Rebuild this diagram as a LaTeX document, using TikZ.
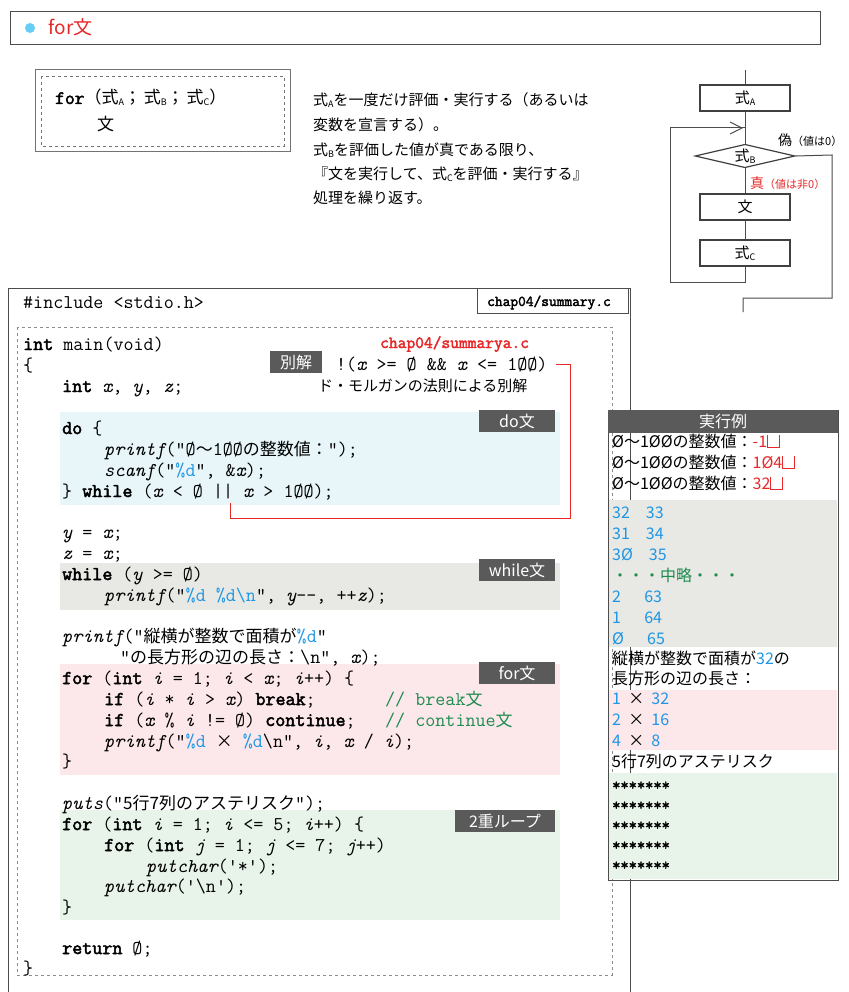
\documentclass[tikz,border=0pt]{standalone}
\usetikzlibrary{shapes.geometric}
\usepackage{fontspec}
\setmainfont{Noto Sans CJK JP}
\setmonofont{Latin Modern Mono}[AutoFakeBold=2.5]
\newfontfamily\jpf{Noto Sans CJK JP}
\definecolor{tagfill}{RGB}{90,90,90}
\definecolor{myred}{RGB}{230,40,40}
\definecolor{myblue}{RGB}{30,150,230}
\definecolor{mygreen}{RGB}{30,140,80}
\definecolor{bgblue}{RGB}{232,246,250}
\definecolor{bggray}{RGB}{232,232,228}
\definecolor{bgpink}{RGB}{252,232,234}
\definecolor{bggreen}{RGB}{232,244,234}
\newcommand\K[1]{{\bfseries #1}}
\newcommand\V[1]{{\itshape #1}}
\newcommand\J[1]{{\jpf\fontsize{17}{20}\selectfont #1}}
\newcommand\Bl[1]{\textcolor{myblue}{#1}}
\newcommand\Rd[1]{\textcolor{myred}{#1}}
\newcommand\Sb[1]{\raisebox{-2pt}{\fontsize{9}{10}\selectfont #1}}
\newcommand\Ret{\tikz[baseline=0pt]\draw[myred,line width=0.8pt] (0,12pt) -- (0,0) -- (12pt,0) -- (12pt,12pt);}
\tikzset{
  code/.style={anchor=base west,inner sep=0pt,font=\ttfamily\fontsize{19.5}{20}\selectfont},
  desc/.style={anchor=base west,inner sep=0pt,font=\fontsize{15}{18}\selectfont},
  outl/.style={anchor=base west,inner sep=0pt,font=\fontsize{16}{18}\selectfont},
  tag/.style={fill=tagfill,text=white,minimum width=76pt,minimum height=22pt,inner sep=0pt,font=\fontsize{16}{18}\selectfont},
  fbox/.style={draw=black!75,line width=1.2pt,minimum width=90pt,minimum height=26pt,inner sep=0pt,font=\fontsize{15}{18}\selectfont},
  fl/.style={draw=black!70,line width=1pt},
}
\begin{document}
\begin{tikzpicture}[x=1pt,y=-1pt]
\useasboundingbox (0,0) rectangle (848,992);
% header
\draw[black!70,line width=1pt] (10,12) rectangle (820,45);
\fill[cyan!60] (30,28) circle (5);
\node[anchor=west,text=myred,font=\fontsize{19}{22}\selectfont] (hdr) at (45,27) {for文};
% syntax box
\draw[black!55,line width=1pt] (35,70) rectangle (290,152);
\draw[black!55,dashed] (41,76) rectangle (284,146);
\node[code,font=\ttfamily\fontsize{19}{20}\selectfont] (syn1) at (55,104) {\K{for}\J{（式\Sb{A}；\,式\Sb{B}；\,式\Sb{C}）}};
\node[anchor=base west,inner sep=0pt,font=\fontsize{17}{18}\selectfont] (syn2) at (97,131) {文};
% description
\node[desc] (d1) at (313,106) {式\Sb{A}を一度だけ評価・実行する（あるいは};
\node[desc] (d2) at (313,131) {変数を宣言する）。};
\node[desc] (d3) at (313,156) {式\Sb{B}を評価した値が真である限り、};
\node[desc] (d4) at (313,180) {『文を実行して、式\Sb{C}を評価・実行する』};
\node[desc] (d5) at (313,204) {処理を繰り返す。};
% flowchart
\node[fbox] (fa) at (745,98) {式\Sb{A}};
\node[draw=black!75,line width=1.2pt,diamond,aspect=3.3,inner sep=1pt,minimum width=100pt,font=\fontsize{15}{18}\selectfont] (fb) at (745,156) {式\Sb{B}};
\node[fbox] (fs) at (745,207) {文};
\node[fbox] (fc) at (745,253) {式\Sb{C}};
\coordinate (ftop) at (745,70);
\coordinate (fend) at (743,312);
\draw[fl] (ftop) -- (fa.north);
\draw[fl] (fa.south) -- (fb.north);
\draw[fl] (fb.south) -- (fs.north);
\draw[fl] (fs.south) -- (fc.north);
\draw[fl] (fc.south) -- (745,282) -- (670,282) -- (670,128) -- (745,128);
\draw[fl] (730,122) -- (742,128) -- (730,134);
\draw[fl] (fb.east) -- (832,155) -- (832,298) -- (743,298) -- (fend);
\node[anchor=west,inner sep=0pt,font=\fontsize{14}{16}\selectfont] (lf) at (778,140) {偽\fontsize{11}{12}\selectfont（値は0）};
\node[anchor=west,inner sep=0pt,text=myred,font=\fontsize{14}{16}\selectfont] (lt) at (750,183) {真\fontsize{11}{12}\selectfont（値は非0）};
% code panel
\draw[black!70,line width=1pt] (8,992) -- (8,288) -- (630,288) -- (630,992);
\draw[black!70,line width=1pt] (477,288) rectangle (628,313);
\node[code,font=\ttfamily\bfseries\fontsize{15}{18}\selectfont] (fname) at (487,306) {chap04/summary.c};
\draw[black!45,dashed,line width=1pt] (17,327) rectangle (612,975);
% backgrounds
\fill[bgblue] (60,412) rectangle (560,505);
\fill[bggray] (60,563) rectangle (560,610);
\fill[bgpink] (60,664) rectangle (560,775);
\fill[bggreen] (60,810) rectangle (560,920);
% tags
\node[tag] (tdo) at (517,421) {do文};
\node[tag] (twh) at (517,570) {while文};
\node[tag] (tfor) at (517,673) {for文};
\node[tag,minimum width=100pt] (t2) at (505,821) {2重ループ};
\node[tag,minimum width=52pt] (tbk) at (296,362) {別解};
% code
\node[code] (c0) at (23,308) {\#include <stdio.h>};
\node[code] (c1) at (23,350) {\K{int} main(void)};
\node[code] (c2) at (23,371) {\{};
\node[code] (c3) at (62,392) {\K{int} \V{x}, \V{y}, \V{z};};
\node[code] (c4) at (62,434) {\K{do} \{};
\node[code] (c5) at (104,455) {\V{printf}("Ø\J{〜}1ØØ\J{の整数値：}");};
\node[code] (c6) at (104,476) {\V{scanf}("\Bl{\%d}", \&\V{x});};
\node[code] (c7) at (62,497) {\} \K{while} (\V{x} < Ø || \V{x} > 1ØØ);};
\node[code] (c8) at (62,538) {\V{y} = \V{x};};
\node[code] (c9) at (62,559) {\V{z} = \V{x};};
\node[code] (c10) at (62,580) {\K{while} (\V{y} >= Ø)};
\node[code] (c11) at (104,601) {\V{printf}("\Bl{\%d} \Bl{\%d}\Bl{\textbackslash n}", \V{y}-{}-, +{}+\V{z});};
\node[code] (c12) at (62,642) {\V{printf}("\J{縦横が整数で面積が}\Bl{\%d}"};
\node[code] (c13) at (120,663) {"\J{の長方形の辺の長さ：}\textbackslash n", \V{x});};
\node[code] (c14) at (62,684) {\K{for} (\K{int} \V{i} = 1; \V{i} < \V{x}; \V{i}+{}+) \{};
\node[code] (c15) at (104,705) {\K{if} (\V{i} * \V{i} > \V{x}) \K{break};};
\node[code,text=mygreen] (c15c) at (385,705) {// break\J{文}};
\node[code] (c16) at (104,726) {\K{if} (\V{x} \% \V{i} != Ø) \K{continue};};
\node[code,text=mygreen] (c16c) at (385,726) {// continue\J{文}};
\node[code] (c17) at (104,747) {\V{printf}("\Bl{\%d} \J{×} \Bl{\%d}\textbackslash n", \V{i}, \V{x} / \V{i});};
\node[code] (c18) at (62,767) {\}};
\node[code] (c19) at (62,809) {\V{puts}("\J{5行7列のアステリスク}");};
\node[code] (c20) at (62,830) {\K{for} (\K{int} \V{i} = 1; \V{i} <= 5; \V{i}+{}+) \{};
\node[code] (c21) at (104,851) {\K{for} (\K{int} \V{j} = 1; \V{j} <= 7; \V{j}+{}+)};
\node[code] (c22) at (146,872) {\V{putchar}('*');};
\node[code] (c23) at (104,892) {\V{putchar}('\textbackslash n');};
\node[code] (c24) at (62,913) {\}};
\node[code] (c25) at (62,954) {\K{return} Ø;};
\node[code] (c26) at (23,974) {\}};
% alternative
\node[code,text=myred,font=\ttfamily\bfseries\fontsize{17}{20}\selectfont] (alt) at (380,348) {chap04/summarya.c};
\node[code] (altc) at (336,370) {!(\V{x} >= Ø \&\& \V{x} <= 1ØØ)};
\node[desc] (altd) at (318,391) {ド・モルガンの法則による別解};
\coordinate (rl) at (556,364);
\draw[myred,line width=0.8pt] (rl) -- (570,364) -- (570,518) -- (230,518) -- (230,503);
% result panel
\draw[black!70,line width=1pt] (608,410) rectangle (838,880);
\node[fill=tagfill,text=white,minimum width=230pt,minimum height=23pt,inner sep=0pt,anchor=north west,font=\fontsize{16}{18}\selectfont] (rh) at (608,410) {実行例};
\fill[bggray] (609,500) rectangle (837,647);
\fill[bgpink] (609,690) rectangle (837,750);
\fill[bggreen] (609,773) rectangle (837,879);
\node[outl] (o1) at (612,447) {Ø〜1ØØの整数値：\Rd{-1}\Ret};
\node[outl] (o2) at (612,468) {Ø〜1ØØの整数値：\Rd{1Ø4}\Ret};
\node[outl] (o3) at (612,489) {Ø〜1ØØの整数値：\Rd{32}\Ret};
\node[outl,text=myblue] (o4) at (612,518) {32\quad 33};
\node[outl,text=myblue] (o5) at (612,539) {31\quad 34};
\node[outl,text=myblue] (o6) at (612,560) {3Ø\quad 35};
\node[outl,text=mygreen] (o7) at (612,581) {・・・中略・・・};
\node[outl,text=myblue] (o8) at (612,602) {2\quad\ \ 63};
\node[outl,text=myblue] (o9) at (612,623) {1\quad\ \ 64};
\node[outl,text=myblue] (o10) at (612,644) {Ø\quad\ \ 65};
\node[outl] (o11) at (612,664) {縦横が整数で面積が\Bl{32}の};
\node[outl] (o12) at (612,684) {長方形の辺の長さ：};
\node[outl,text=myblue] (o13) at (612,704) {1\ \ \textcolor{black}{×}\ \ 32};
\node[outl,text=myblue] (o14) at (612,725) {2\ \ \textcolor{black}{×}\ \ 16};
\node[outl,text=myblue] (o15) at (612,746) {4\ \ \textcolor{black}{×}\ \ 8};
\node[outl] (o16) at (612,767) {5行7列のアステリスク};
\node[code,font=\ttfamily\bfseries\fontsize{16}{18}\selectfont] (s1) at (612,790) {*******};
\node[code,font=\ttfamily\bfseries\fontsize{16}{18}\selectfont] (s2) at (612,810) {*******};
\node[code,font=\ttfamily\bfseries\fontsize{16}{18}\selectfont] (s3) at (612,830) {*******};
\node[code,font=\ttfamily\bfseries\fontsize{16}{18}\selectfont] (s4) at (612,850) {*******};
\node[code,font=\ttfamily\bfseries\fontsize{16}{18}\selectfont] (s5) at (612,870) {*******};
\end{tikzpicture}
\end{document}
